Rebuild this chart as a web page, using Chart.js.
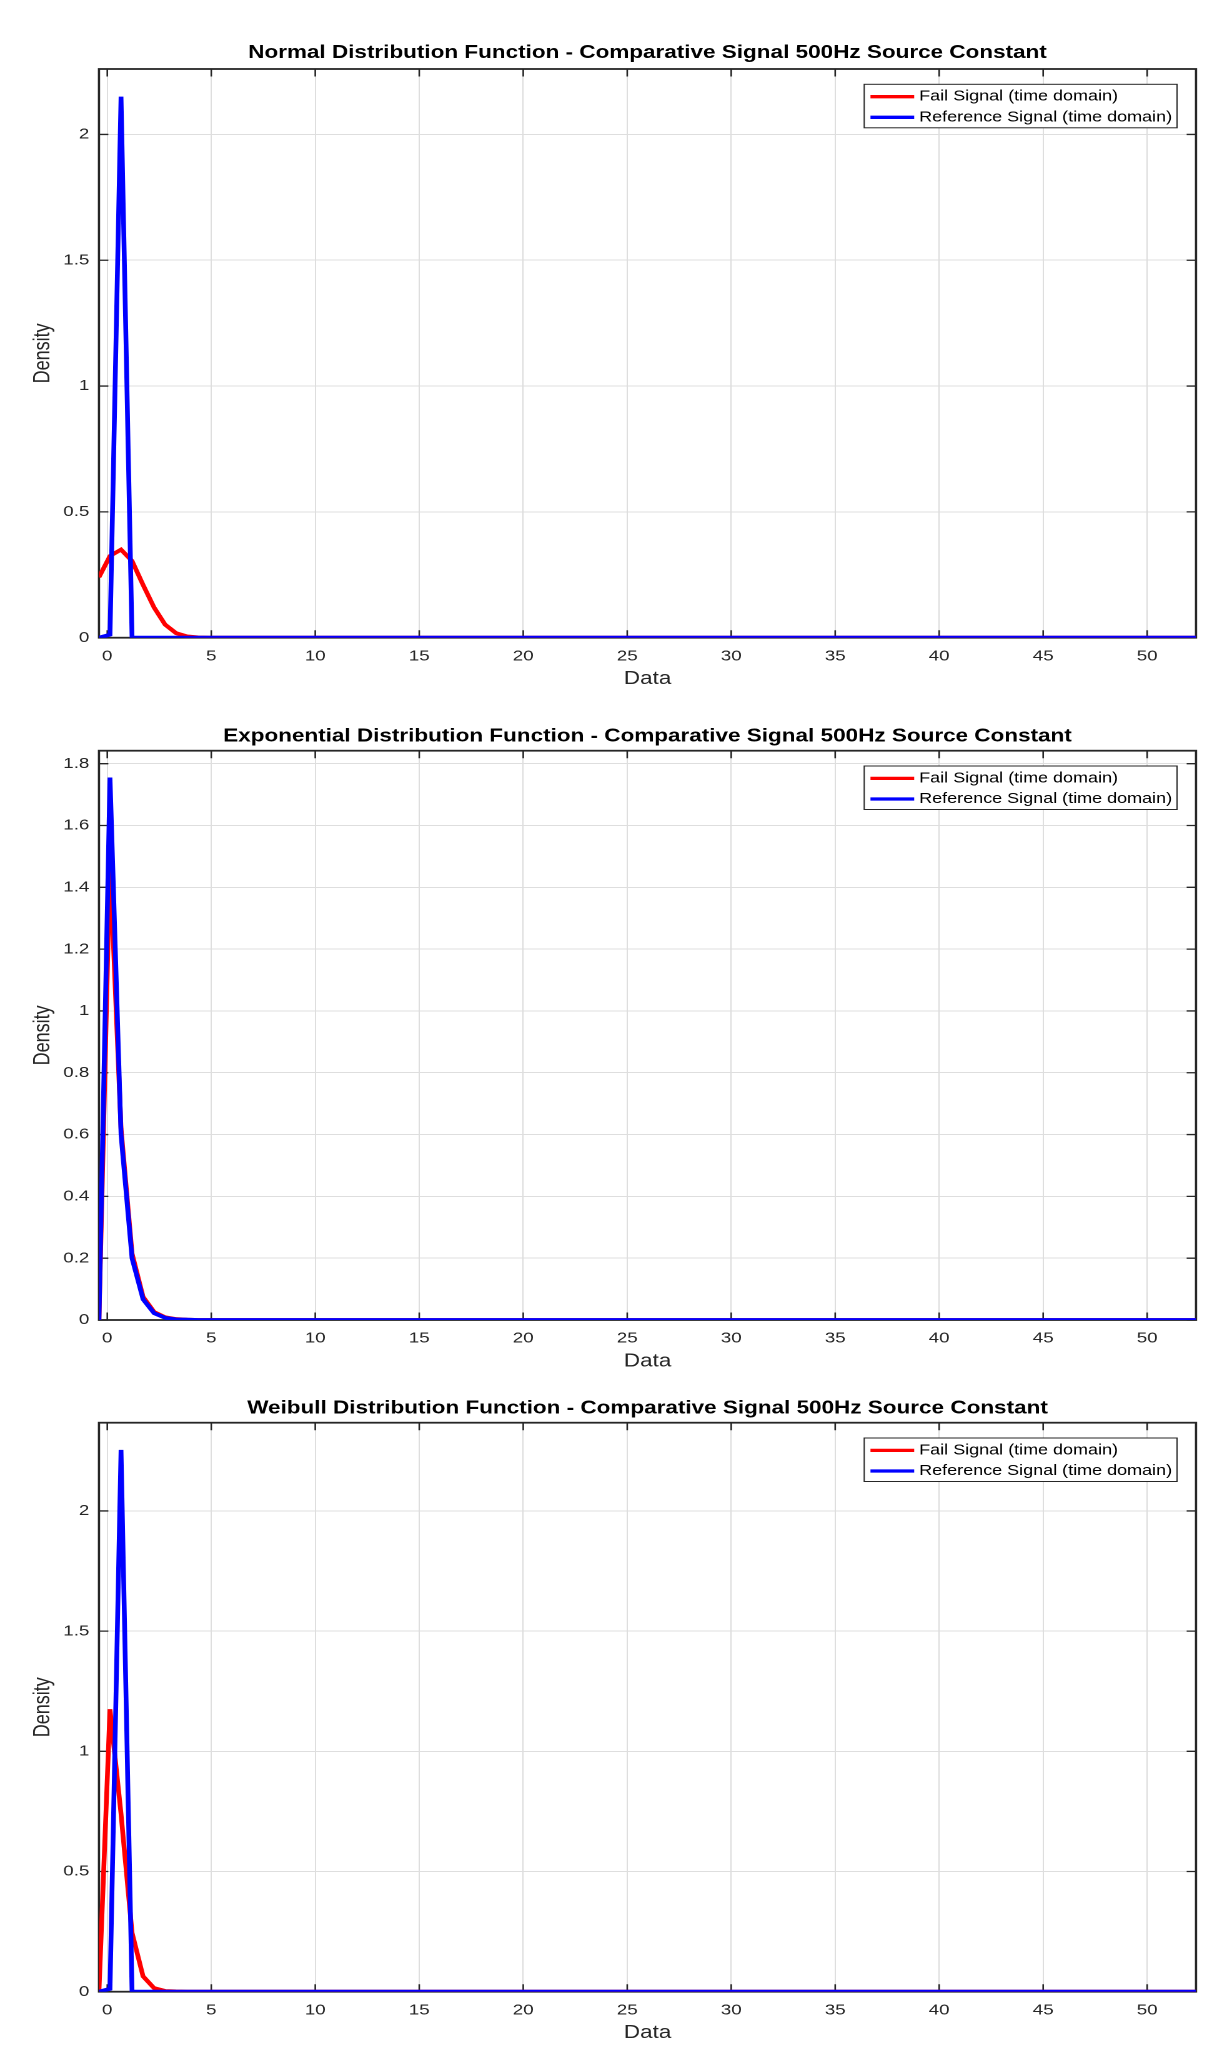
<!DOCTYPE html>
<html>
<head>
<meta charset="utf-8">
<script src="https://cdn.jsdelivr.net/npm/chart.js@4/dist/chart.umd.min.js"></script>
<style>
  html, body { margin: 0; padding: 0; background: #fff; }
  #wrap { position: relative; width: 1217px; height: 2048px; overflow: hidden; }
  .panel { position: absolute; left: 0; width: 974px; transform: scaleX(1.2495); transform-origin: 0 0; }
</style>
</head>
<body>
<div id="wrap">
  <div class="panel" style="top:0px;height:700px"><canvas id="normal" width="974" height="700"></canvas></div>
  <div class="panel" style="top:700px;height:685px"><canvas id="exponential" width="974" height="685"></canvas></div>
  <div class="panel" style="top:1385px;height:663px"><canvas id="weibull" width="974" height="663"></canvas></div>
</div>
<script>
// sample points of the density estimates (Data axis)
const xSamples = [-0.4, 0.13, 0.66, 1.19, 1.72, 2.25, 2.78, 3.31, 3.84, 4.37, 4.9, 5.43, 52.35];
const xTicks = [0, 5, 10, 15, 20, 25, 30, 35, 40, 45, 50];

const normalFail = [0.24, 0.325, 0.35, 0.305, 0.21, 0.12, 0.052, 0.018, 0.005, 0.001, 0, 0, 0];
const normalRef = [0, 0.012, 2.15, 0, 0, 0, 0, 0, 0, 0, 0, 0, 0];
const normalTicks = [0, 0.5, 1, 1.5, 2];

const expFail = [0, 1.49, 0.62, 0.215, 0.075, 0.026, 0.009, 0.003, 0.001, 0, 0, 0, 0];
const expRef = [0, 1.755, 0.6, 0.2, 0.067, 0.022, 0.007, 0.002, 0.001, 0, 0, 0, 0];
const expTicks = [0, 0.2, 0.4, 0.6, 0.8, 1, 1.2, 1.4, 1.6, 1.8];

const weibullFail = [0, 1.175, 0.74, 0.245, 0.064, 0.015, 0.003, 0.001, 0, 0, 0, 0, 0];
const weibullRef = [0, 0.012, 2.254, 0, 0, 0, 0, 0, 0, 0, 0, 0, 0];
const weibullTicks = [0, 0.5, 1, 1.5, 2];

const seriesLabels = ["Fail Signal (time domain)", "Reference Signal (time domain)"];
const seriesColors = ["#ff0000", "#0000ff"];

const FONT = '"Liberation Sans", Arial, Helvetica, sans-serif';
const AXIS = "#262626";

// matlab style box with inward tick marks
const axesFrame = {
  id: "axesFrame",
  beforeDatasetsDraw(chart) {
    const { ctx, chartArea: a, scales } = chart;
    const len = 7.5;
    ctx.save();
    ctx.strokeStyle = AXIS;
    ctx.lineWidth = 1.3;
    ctx.beginPath();
    scales.x.ticks.forEach(t => {
      const px = scales.x.getPixelForValue(t.value);
      ctx.moveTo(px, a.bottom); ctx.lineTo(px, a.bottom - len);
      ctx.moveTo(px, a.top); ctx.lineTo(px, a.top + len);
    });
    scales.y.ticks.forEach(t => {
      const py = scales.y.getPixelForValue(t.value);
      ctx.moveTo(a.left, py); ctx.lineTo(a.left + len, py);
      ctx.moveTo(a.right, py); ctx.lineTo(a.right - len, py);
    });
    ctx.stroke();
    ctx.lineWidth = 1.8;
    ctx.strokeRect(a.left, a.top, a.right - a.left, a.bottom - a.top);
    ctx.restore();
  }
};

// legend box drawn inside the axes, top right
const boxLegend = {
  id: "boxLegend",
  afterDatasetsDraw(chart) {
    const { ctx, chartArea: a } = chart;
    const sets = chart.data.datasets;
    ctx.save();
    ctx.font = "14.4px " + FONT;
    const tw = Math.max(...sets.map(d => ctx.measureText(d.label).width));
    const w = 44 + tw + 4, h = 43.5;
    const x = a.right - 15.2 - w, y = a.top + 15.3;
    ctx.fillStyle = "#fff";
    ctx.fillRect(x, y, w, h);
    ctx.strokeStyle = AXIS;
    ctx.lineWidth = 1;
    ctx.strokeRect(x, y, w, h);
    sets.forEach((d, i) => {
      const ly = y + 12.4 + i * 20.6;
      ctx.strokeStyle = d.borderColor;
      ctx.lineWidth = 3.3;
      ctx.beginPath();
      ctx.moveTo(x + 5, ly);
      ctx.lineTo(x + 40, ly);
      ctx.stroke();
      ctx.fillStyle = "#000";
      ctx.textBaseline = "middle";
      ctx.textAlign = "left";
      ctx.fillText(d.label, x + 44, ly);
    });
    ctx.restore();
  }
};

function points(ys) {
  return xSamples.map((x, i) => ({ x: x, y: ys[i] }));
}

function makeChart(id, title, fail, ref, yMax, yTicks, dims) {
  new Chart(document.getElementById(id), {
    type: "line",
    data: {
      datasets: [
        { label: seriesLabels[0], data: points(fail), borderColor: seriesColors[0], order: 1 },
        { label: seriesLabels[1], data: points(ref), borderColor: seriesColors[1], order: 0 }
      ]
    },
    options: {
      responsive: false,
      animation: false,
      devicePixelRatio: 2,
      layout: { padding: { left: 0, right: 16.8, top: 0, bottom: 0 } },
      elements: {
        line: { borderWidth: 3.8, tension: 0, fill: false },
        point: { radius: 0 }
      },
      plugins: {
        legend: { display: false },
        tooltip: { enabled: false },
        title: {
          display: true,
          text: title,
          fullSize: false,
          color: "#000",
          font: { family: FONT, size: 18, weight: "bold", lineHeight: 1.2 },
          padding: { top: dims.titleTop, bottom: dims.titleBottom }
        }
      },
      scales: {
        x: {
          type: "linear",
          min: -0.4,
          max: 52.35,
          afterBuildTicks: s => { s.ticks = xTicks.map(v => ({ value: v })); },
          afterFit: s => { s.height = dims.xHeight; },
          grid: { color: "#dedede", lineWidth: 1, drawTicks: false },
          border: { display: false },
          ticks: { color: AXIS, padding: 9.6, font: { family: FONT, size: 15 }, maxRotation: 0, callback: v => String(v) },
          title: {
            display: true,
            text: "Data",
            color: AXIS,
            font: { family: FONT, size: 18, lineHeight: 1.2 },
            padding: { top: 0, bottom: dims.dataBottom }
          }
        },
        y: {
          min: 0,
          max: yMax,
          afterBuildTicks: s => { s.ticks = yTicks.map(v => ({ value: v })); },
          afterFit: s => { s.width = 79.2; },
          grid: { color: "#dedede", lineWidth: 1, drawTicks: false },
          border: { display: false },
          ticks: { color: AXIS, padding: 7.7, font: { family: FONT, size: 15 }, callback: v => String(v) },
          title: {
            display: true,
            text: "Density",
            color: AXIS,
            font: { family: FONT, size: 18, lineHeight: 1.2 },
            padding: { top: 23.6, bottom: 0 }
          }
        }
      }
    },
    plugins: [axesFrame, boxLegend]
  });
}

makeChart("normal", "Normal Distribution Function - Comparative Signal 500Hz Source Constant",
  normalFail, normalRef, 2.26, normalTicks,
  { titleTop: 42.2, titleBottom: 5.2, xHeight: 62.3, dataBottom: 10.2 });

makeChart("exponential", "Exponential Distribution Function - Comparative Signal 500Hz Source Constant",
  expFail, expRef, 1.842, expTicks,
  { titleTop: 25.9, titleBottom: 3.2, xHeight: 65, dataBottom: 12.9 });

makeChart("weibull", "Weibull Distribution Function - Comparative Signal 500Hz Source Constant",
  weibullFail, weibullRef, 2.367, weibullTicks,
  { titleTop: 12.5, titleBottom: 3.6, xHeight: 56.3, dataBottom: 4.2 });
</script>
</body>
</html>
